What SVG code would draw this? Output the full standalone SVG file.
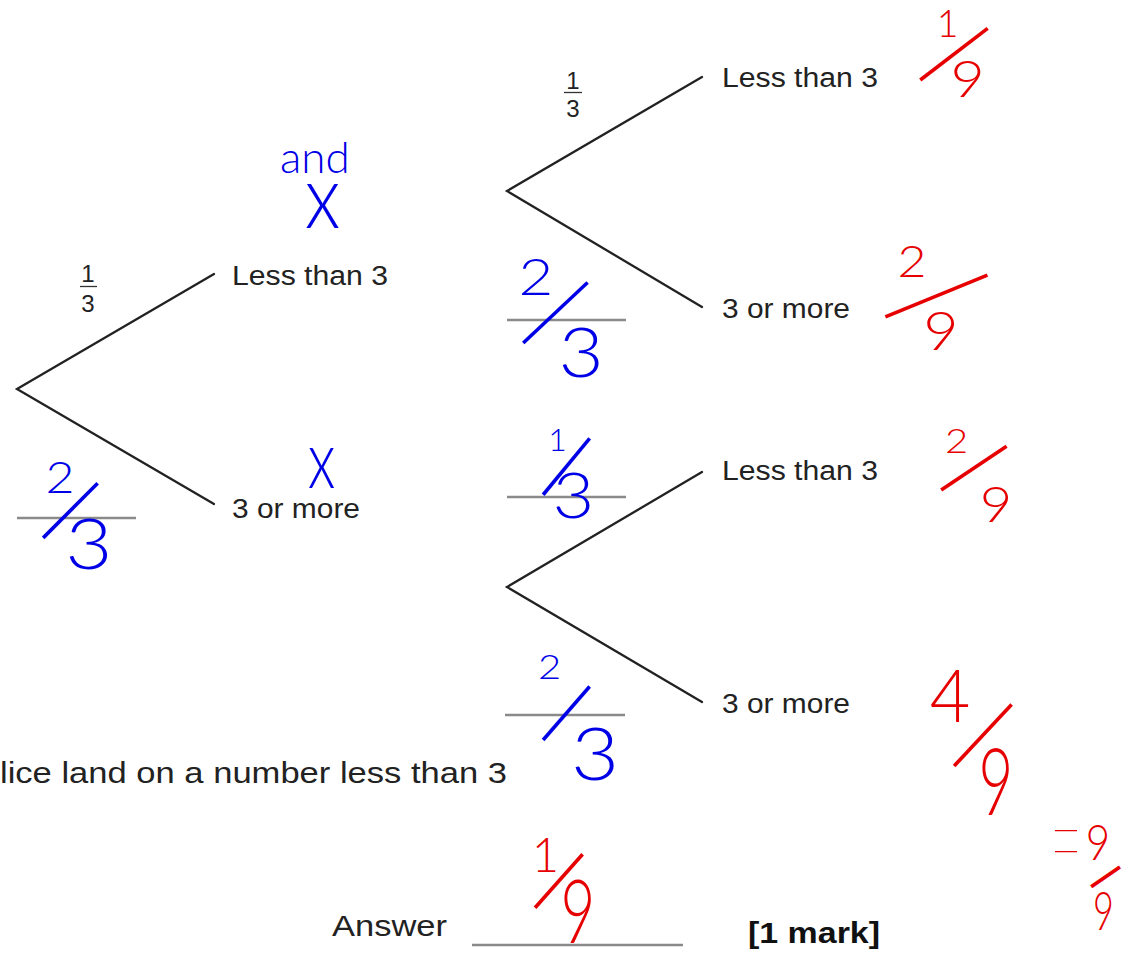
<svg xmlns="http://www.w3.org/2000/svg" width="1133" height="954" viewBox="0 0 1133 954">
<style>
.lbl{font-family:"Liberation Sans",Arial,sans-serif;font-size:27px;fill:#222}
.big{font-size:30px}
.bold{font-weight:bold;fill:#111}
.frac{font-size:24px;text-anchor:middle}
.branch{stroke:#222;stroke-width:2.3;fill:none;stroke-linecap:round}
.bar{stroke:#333;stroke-width:1.3}
.rule{stroke:#8a8a8a;stroke-width:2.5}
.hw{font-family:Lato,"Liberation Sans",sans-serif;font-weight:300;font-size:100px;text-anchor:middle}
.blue{fill:#0000e6}
.red{fill:#e60000}
.sl{font-family:"Liberation Sans",Arial,sans-serif;font-weight:400;text-anchor:start}
.thin{font-weight:200}
</style>
<rect width="1133" height="954" fill="#fff"/>

<g id="connectors">
  <polyline class="branch" points="214,274 17,389 214,504"/>
  <polyline class="branch" points="702,77 507,191 702,307"/>
  <polyline class="branch" points="702,472 507,587 702,702"/>
</g>

<g id="t1-less"><text class="lbl" x="232" y="285" textLength="156" lengthAdjust="spacingAndGlyphs">Less than 3</text></g>
<g id="t1-more"><text class="lbl" x="232" y="518" textLength="128" lengthAdjust="spacingAndGlyphs">3 or more</text></g>
<g id="t2-less"><text class="lbl" x="722" y="87" textLength="156" lengthAdjust="spacingAndGlyphs">Less than 3</text></g>
<g id="t2-more"><text class="lbl" x="722" y="318" textLength="128" lengthAdjust="spacingAndGlyphs">3 or more</text></g>
<g id="t3-less"><text class="lbl" x="722" y="480" textLength="156" lengthAdjust="spacingAndGlyphs">Less than 3</text></g>
<g id="t3-more"><text class="lbl" x="722" y="713" textLength="128" lengthAdjust="spacingAndGlyphs">3 or more</text></g>

<g id="p1-frac">
  <text class="lbl frac" x="88" y="282">1</text>
  <line class="bar" x1="80" y1="286.5" x2="97" y2="286.5"/>
  <text class="lbl frac" x="88" y="312">3</text>
</g>
<g id="p2-frac">
  <text class="lbl frac" x="573" y="89">1</text>
  <line class="bar" x1="564" y1="92.5" x2="582" y2="92.5"/>
  <text class="lbl frac" x="573" y="117">3</text>
</g>

<g id="answer-rules">
  <line class="rule" x1="17" y1="518" x2="136" y2="518"/>
  <line class="rule" x1="507" y1="320" x2="626" y2="320"/>
  <line class="rule" x1="507" y1="497" x2="626" y2="497"/>
  <line class="rule" x1="505" y1="715" x2="625" y2="715"/>
  <line class="rule" x1="472" y1="945" x2="683" y2="945"/>
</g>

<g id="question">
  <text class="lbl big" x="0" y="783" textLength="507" lengthAdjust="spacingAndGlyphs">lice land on a number less than 3</text>
  <text class="lbl big" x="332" y="936" textLength="115" lengthAdjust="spacingAndGlyphs">Answer</text>
  <text class="lbl big bold" x="748" y="943" textLength="132" lengthAdjust="spacingAndGlyphs">[1 mark]</text>
</g>

<g id="blue-notes">
  <text class="hw blue" x="280" y="173" style="font-size:44px;text-anchor:start">and</text>
  <text class="hw blue" transform="matrix(.76,0,0,.89,322.5,228)">x</text>
  <text class="hw blue" transform="matrix(.59,0,0,.81,321.5,488)">x</text>
  <!-- tree 1: 2/3 -->
  <text class="hw blue" transform="matrix(.5,0,0,.43,60,493)">2</text>
  <text class="hw blue sl" transform="matrix(.3256,.3256,-.6534,.831,42.547,535.766)">/</text>
  <text class="hw blue" transform="matrix(.815,0,0,.708,89,569)">3</text>
  <!-- tree 2: 2/3 -->
  <text class="hw blue" transform="matrix(.6,0,0,.52,536,295)">2</text>
  <text class="hw blue sl" transform="matrix(.3151,.3358,-.7912,.9147,522.752,340.626)">/</text>
  <text class="hw blue" transform="matrix(.78,0,0,.681,581,377)">3</text>
  <!-- tree 3: 1/3 -->
  <text class="hw blue" transform="matrix(.32,0,0,.32,557.5,451)">1</text>
  <text class="hw blue sl" transform="matrix(.3552,.293,-.5374,.8491,542.295,492.868)">/</text>
  <text class="hw blue" transform="matrix(.72,0,0,.625,573.5,518)">3</text>
  <!-- tree 3: 2/3 -->
  <text class="hw blue" transform="matrix(.4,0,0,.34,549.5,679)">2</text>
  <text class="hw blue sl" transform="matrix(.3473,.3023,-.5395,.8111,542.327,737.878)">/</text>
  <text class="hw blue" transform="matrix(.83,0,0,.722,595,780)">3</text>
</g>

<g id="red-notes">
  <!-- 1/9 -->
  <text class="hw red" transform="matrix(.375,0,0,.375,947.5,37)">1</text>
  <text class="hw red sl" transform="matrix(.2797,.3658,-.8414,.8014,919.947,77.648)">/</text>
  <text class="hw red" transform="matrix(.59,0,0,.514,967.5,97)">9</text>
  <!-- 2/9 -->
  <text class="hw red" transform="matrix(.5,0,0,.43,912,277)">2</text>
  <text class="hw red sl" transform="matrix(.1739,.4264,-1.3425,.683,885.95,314.56)">/</text>
  <text class="hw red" transform="matrix(.61,0,0,.528,941,350)">9</text>
  <!-- 2/9 -->
  <text class="hw red" transform="matrix(.4,0,0,.34,956.5,453)">2</text>
  <text class="hw red sl" transform="matrix(.2554,.3831,-.821,.6982,941.014,487.706)">/</text>
  <text class="hw red" transform="matrix(.56,0,0,.486,996,522)">9</text>
  <!-- 4/9 -->
  <text class="hw red" transform="matrix(.7,0,0,.736,950,722)">4</text>
  <text class="hw red sl" transform="matrix(.3363,.3146,-.691,.9224,953.551,763.698)">/</text>
  <text class="hw red" transform="matrix(.6,0,0,.931,996,815)">9</text>
  <!-- =9/9 -->
  <text class="hw red thin" transform="matrix(.55,0,0,1.45,1066,890)">=</text>
  <text class="hw red" transform="matrix(.42,0,0,.486,1098,860)">9</text>
  <text class="hw red sl" transform="matrix(.2614,.3791,-.3201,.3732,1090.391,885.111)">/</text>
  <text class="hw red" transform="matrix(.36,0,0,.528,1103.5,930)">9</text>
  <!-- answer 1/9 -->
  <text class="hw red" transform="matrix(.472,0,0,.472,545.5,872)">1</text>
  <text class="hw red sl" transform="matrix(.3442,.3059,-.5539,.8121,534.357,905.863)">/</text>
  <text class="hw red" transform="matrix(.6,0,0,.88,578,943)">9</text>
</g>
</svg>
